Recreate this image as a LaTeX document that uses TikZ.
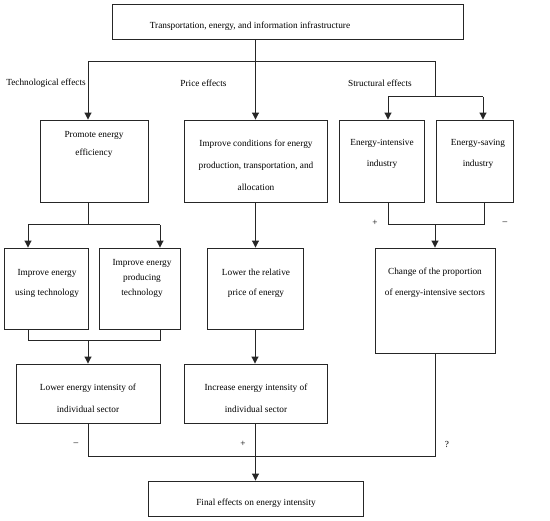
\documentclass[tikz,border=0pt]{standalone}
\usepackage{fontspec}
\setmainfont{Liberation Serif}
\usetikzlibrary{arrows.meta}
\begin{document}
\begin{tikzpicture}[x=1pt,y=-1pt,
  box/.style={draw=black!85, line width=0.9pt, inner sep=0pt},
  txt/.style={font=\fontsize{9.3}{#1}\selectfont, align=center, inner sep=0pt, text=black},
  txt/.default=21pt,
  conn/.style={draw=black!85, line width=1pt},
  arr/.style={conn, -{Triangle[length=7pt,width=7pt]}}]
\useasboundingbox (0,0) rectangle (550,521);
% boxes
\node[box, minimum width=351pt, minimum height=35pt] (top) at (287.5,21.5) {};
\node[box, minimum width=108pt, minimum height=82pt] (promote) at (94,161) {};
\node[box, minimum width=143pt, minimum height=82pt] (cond) at (255.5,161) {};
\node[box, minimum width=85pt, minimum height=82pt] (eint) at (381.5,161) {};
\node[box, minimum width=77pt, minimum height=82pt] (esav) at (474.5,161) {};
\node[box, minimum width=84pt, minimum height=81pt] (use) at (46,288.5) {};
\node[box, minimum width=81pt, minimum height=81pt] (prod) at (139.5,288.5) {};
\node[box, minimum width=96pt, minimum height=81pt] (lower) at (255,288.5) {};
\node[box, minimum width=120pt, minimum height=105pt] (change) at (435,300.5) {};
\node[box, minimum width=144pt, minimum height=59pt] (lowint) at (88,393.5) {};
\node[box, minimum width=143pt, minimum height=59pt] (incint) at (255.5,393.5) {};
\node[box, minimum width=215pt, minimum height=35pt] (final) at (255.5,498.5) {};
% texts
\node[txt] (ttop) at (250,26) {Transportation, energy, and information infrastructure};
\node[txt=18pt] (tpromote) at (94,144) {Promote energy\\efficiency};
\node[txt=22pt] (tcond) at (256,165) {Improve conditions for energy\\production, transportation, and\\allocation};
\node[txt] (teint) at (382,153.5) {Energy-intensive\\industry};
\node[txt] (tesav) at (478,153.5) {Energy-saving\\industry};
\node[txt=20pt] (tuse) at (47,283) {Improve energy\\using technology};
\node[txt=15pt] (tprod) at (142,278) {Improve energy\\producing\\technology};
\node[txt=20pt] (tlower) at (256,283) {Lower the relative\\price of energy};
\node[txt] (tchange) at (435,282.5) {Change of the proportion\\of energy-intensive sectors};
\node[txt=22pt] (tlowint) at (88,398) {Lower energy intensity of\\individual sector};
\node[txt=22pt] (tincint) at (256,398) {Increase energy intensity of\\individual sector};
\node[txt] (tfinal) at (256,503) {Final effects on energy intensity};
\node[txt] (ltech) at (46,83) {Technological effects};
\node[txt] (lprice) at (203.5,83) {Price effects};
\node[txt] (lstruct) at (380,83) {Structural effects};
\node[txt] (sp1) at (375,223) {+};
\node[txt] (sm1) at (505,223) {–};
\node[txt] (sm2) at (76,444) {–};
\node[txt] (sp2) at (243,444) {+};
\node[txt] (sq) at (447,444) {?};
% connectors
\coordinate (hL) at (88,62);
\coordinate (hR) at (435,62);
\coordinate (sJ) at (435,97);
\coordinate (sL) at (388,97);
\coordinate (sR) at (483,97);
\draw[arr] (top.south -| cond.north) -- (cond.north);
\draw[conn] (hL) -- (hR) -- (sJ);
\draw[arr] (hL) -- (hL |- promote.north);
\draw[conn] (sL) -- (sR);
\draw[arr] (sL) -- (sL |- eint.north);
\draw[arr] (sR) -- (sR |- esav.north);
\coordinate (pJ) at (88,225);
\coordinate (pL) at (28,225);
\coordinate (pR) at (160,225);
\draw[conn] (pJ |- promote.south) -- (pJ);
\draw[conn] (pL) -- (pR);
\draw[arr] (pL) -- (pL |- use.north);
\draw[arr] (pR) -- (pR |- prod.north);
\coordinate (uB) at (28,341);
\coordinate (pB) at (160,341);
\draw[conn] (uB |- use.south) -- (uB) -- (pB) -- (pB |- prod.south);
\draw[arr] (lowint.north |- uB) -- (lowint.north);
\draw[arr] (cond.south) -- (cond.south |- lower.north);
\draw[arr] (lower.south) -- (lower.south |- incint.north);
\coordinate (eB) at (388,225);
\coordinate (sB) at (484,225);
\draw[conn] (eB |- eint.south) -- (eB) -- (sB) -- (sB |- esav.south);
\draw[arr] (change.north |- eB) -- (change.north);
\coordinate (fL) at (88,457);
\coordinate (fR) at (435,457);
\draw[conn] (lowint.south) -- (fL) -- (fR) -- (change.south);
\draw[arr] (incint.south) -- (final.north);
\end{tikzpicture}
\end{document}
